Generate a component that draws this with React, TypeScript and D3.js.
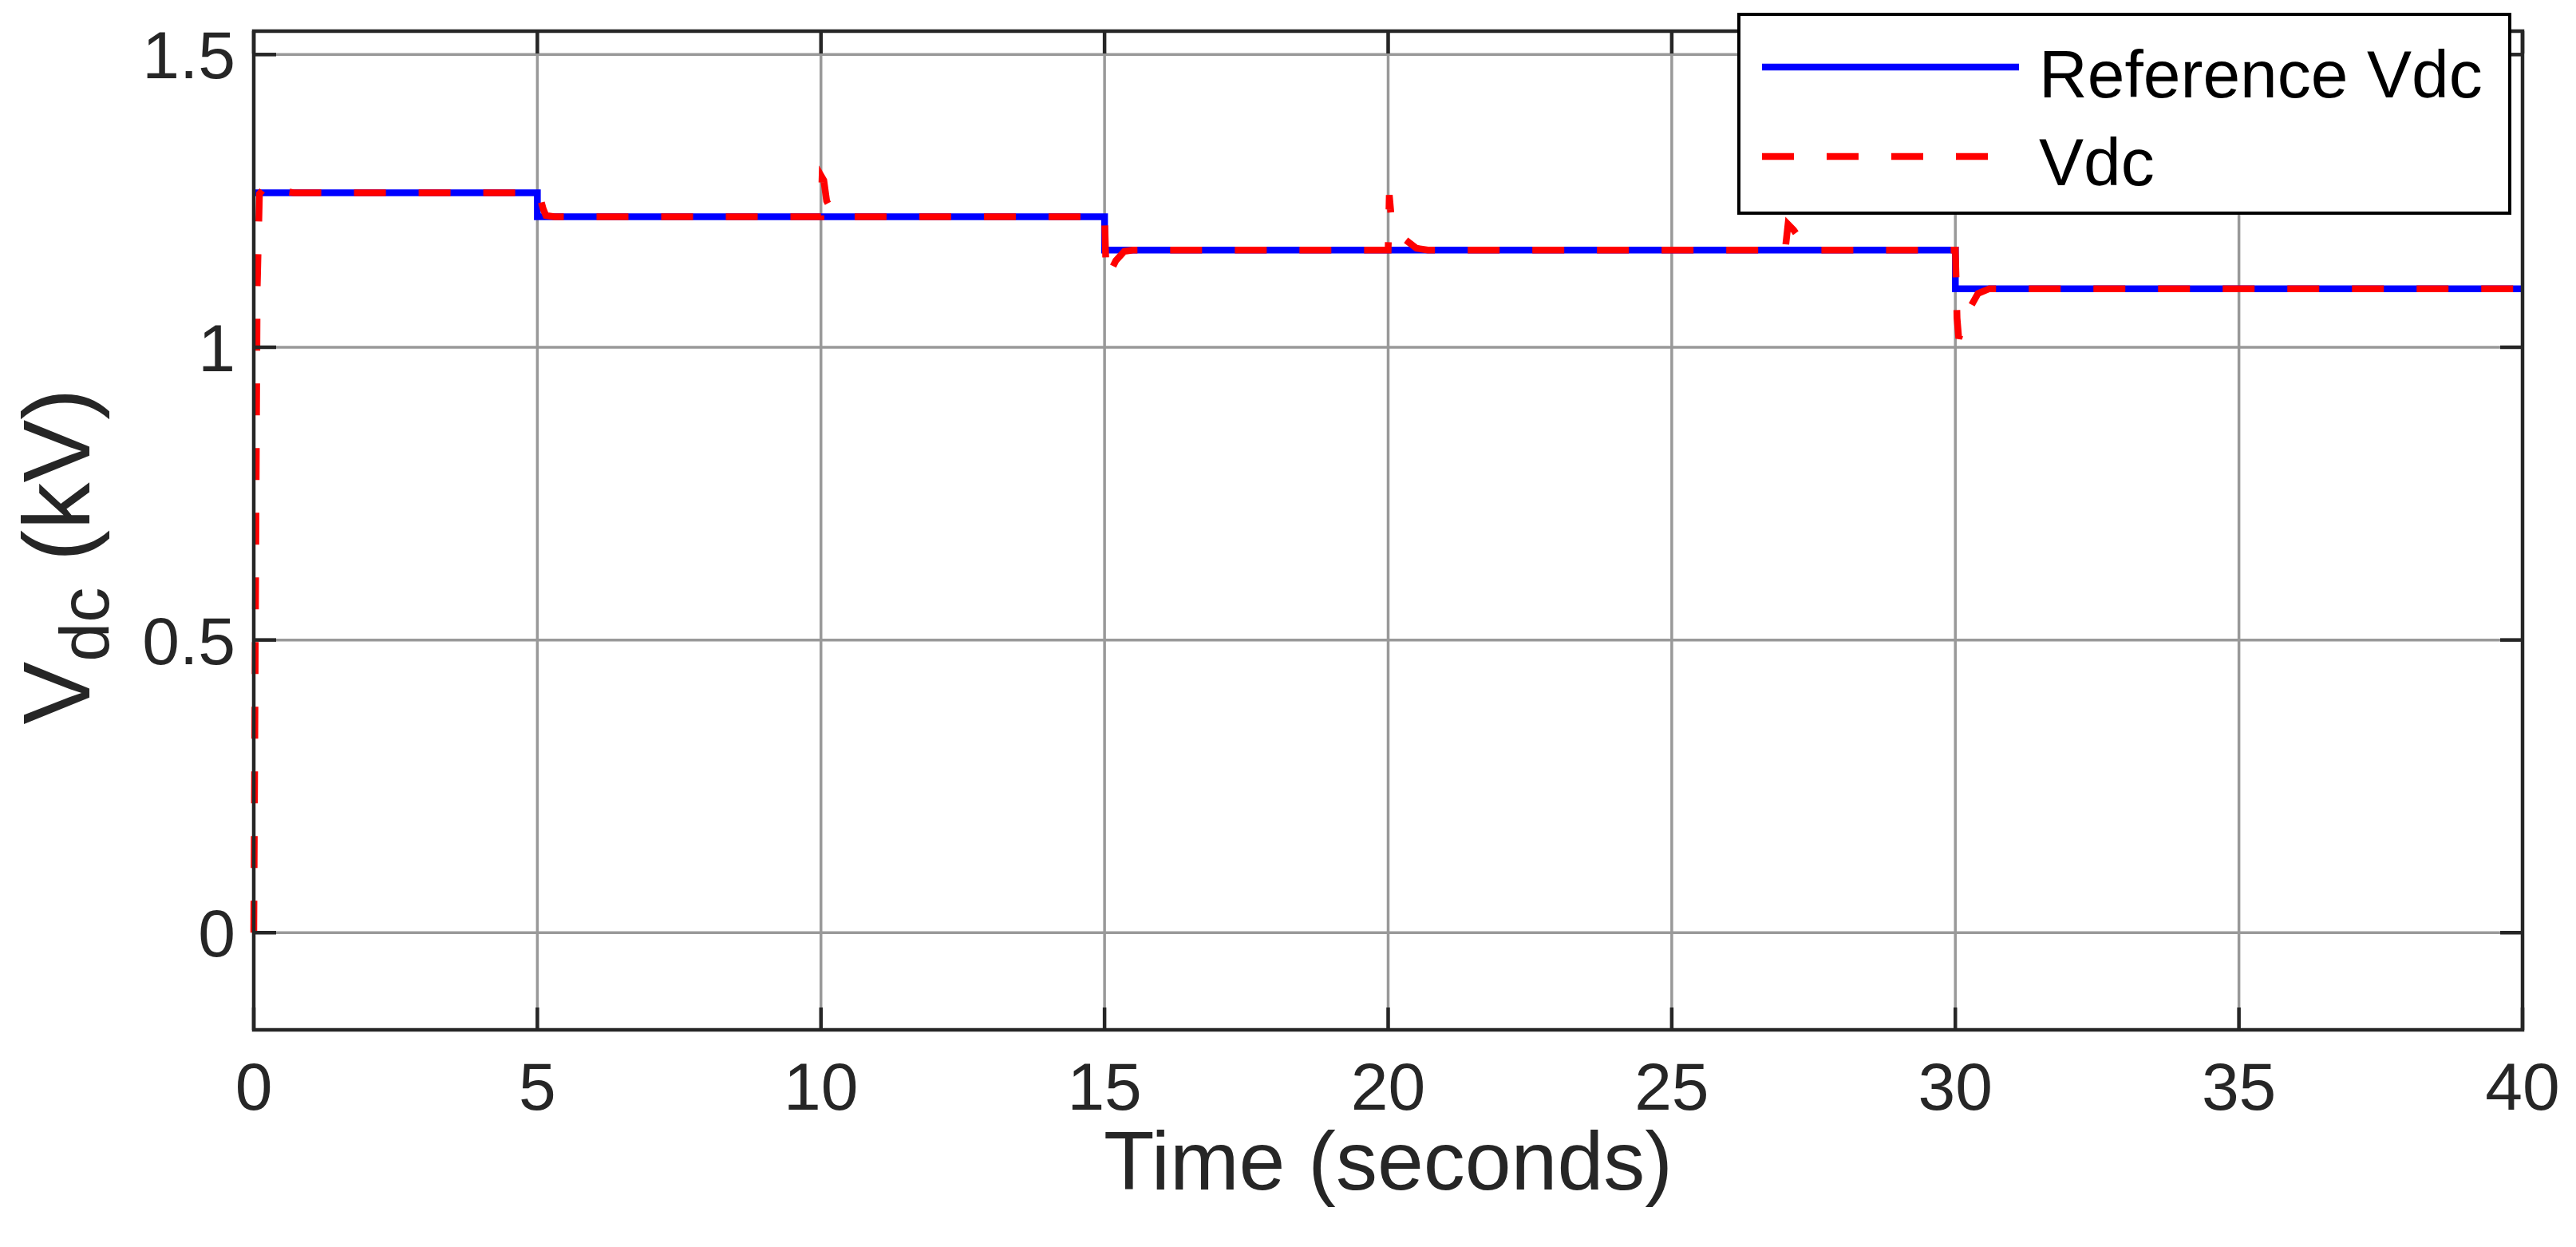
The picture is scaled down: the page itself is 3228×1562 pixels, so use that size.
import React from "react";
import { scaleLinear, line, curveStepAfter, curveLinear } from "d3";

// reference voltage steps (kV)
const refTimes = [0, 5, 15, 30, 40];
const refValues = [1.264, 1.223, 1.166, 1.1, 1.1];

const vdcTimes = [
    0, 0.06, 0.1, 0.25, 0.45, 0.7,
    5.0, 5.05, 5.1, 5.15, 5.3,
    10.0, 10.02, 10.05, 10.1, 10.2, 10.4,
    15.0, 15.03, 15.08, 15.2, 15.35, 15.5,
    20.0, 20.02, 20.06, 20.15, 20.3, 20.5, 20.7,
    27.0, 27.05, 27.15, 27.3, 27.45, 27.6,
    30.0, 30.03, 30.06, 30.15, 30.25, 30.4, 30.6,
    40,
];
const vdcValues = [
    0, 1.1, 1.262, 1.28, 1.268, 1.264,
    1.264, 1.255, 1.237, 1.225, 1.223,
    1.223, 1.29, 1.285, 1.25, 1.232, 1.223,
    1.223, 1.12, 1.125, 1.148, 1.164, 1.166,
    1.166, 1.26, 1.216, 1.2, 1.184, 1.169, 1.166,
    1.166, 1.21, 1.2, 1.18, 1.168, 1.166,
    1.166, 1.05, 1.015, 1.04, 1.066, 1.092, 1.1,
    1.1,
];

const xTicks = [0, 5, 10, 15, 20, 25, 30, 35, 40];
const yTicks = [0, 0.5, 1, 1.5];
const yTickLabels = ["0", "0.5", "1", "1.5"];

const legendNames = ["Reference Vdc", "Vdc"];

const width = 3228;
const height = 1562;
const plot = { left: 318, right: 3161, top: 39, bottom: 1290 };
const font = "Liberation Sans, Arial, Helvetica, sans-serif";
const axisColor = "#262626";
const tickLen = 28;

const App = () => {
    const xScale = scaleLinear().domain([0, 40]).range([plot.left, plot.right]);
    const yScale = scaleLinear()
        .domain([-0.166, 1.54])
        .range([plot.bottom, plot.top]);

    const refPath = line<number>()
        .x((d, i) => xScale(refTimes[i]))
        .y((d) => yScale(d))
        .curve(curveStepAfter)(refValues);

    const vdcPath = line<number>()
        .x((d, i) => xScale(vdcTimes[i]))
        .y((d) => yScale(d))
        .curve(curveLinear)(vdcValues);

    const lg = { x: 2179, y: 18, w: 966, h: 249 };

    return (
        <svg
            width={width}
            height={height}
            style={{ position: "absolute", left: 0, top: 0, background: "white" }}
            fontFamily={font}
        >
            <rect x={0} y={0} width={width} height={height} fill="white" />

            {/* grid */}
            {xTicks.map((t) => (
                <line
                    key={"gx" + t}
                    x1={xScale(t)}
                    x2={xScale(t)}
                    y1={plot.top}
                    y2={plot.bottom}
                    stroke="#999"
                    strokeWidth={3.5}
                />
            ))}
            {yTicks.map((t) => (
                <line
                    key={"gy" + t}
                    x1={plot.left}
                    x2={plot.right}
                    y1={yScale(t)}
                    y2={yScale(t)}
                    stroke="#999"
                    strokeWidth={3.5}
                />
            ))}

            {/* series */}
            <path d={refPath ?? ""} fill="none" stroke="#0000ff" strokeWidth={8.5} />
            <path
                d={vdcPath ?? ""}
                fill="none"
                stroke="#ff0000"
                strokeWidth={8.5}
                strokeDasharray="40,41"
            />

            {/* box and ticks */}
            <rect
                x={plot.left}
                y={plot.top}
                width={plot.right - plot.left}
                height={plot.bottom - plot.top}
                fill="none"
                stroke={axisColor}
                strokeWidth={4.5}
            />
            {xTicks.map((t) => (
                <g key={"tx" + t}>
                    <line
                        x1={xScale(t)}
                        x2={xScale(t)}
                        y1={plot.bottom}
                        y2={plot.bottom - tickLen}
                        stroke={axisColor}
                        strokeWidth={4.5}
                    />
                    <line
                        x1={xScale(t)}
                        x2={xScale(t)}
                        y1={plot.top}
                        y2={plot.top + tickLen}
                        stroke={axisColor}
                        strokeWidth={4.5}
                    />
                    <text
                        x={xScale(t)}
                        y={1390}
                        textAnchor="middle"
                        fontSize={84}
                        fill={axisColor}
                    >
                        {t}
                    </text>
                </g>
            ))}
            {yTicks.map((t, i) => (
                <g key={"ty" + t}>
                    <line
                        x1={plot.left}
                        x2={plot.left + tickLen}
                        y1={yScale(t)}
                        y2={yScale(t)}
                        stroke={axisColor}
                        strokeWidth={4.5}
                    />
                    <line
                        x1={plot.right}
                        x2={plot.right - tickLen}
                        y1={yScale(t)}
                        y2={yScale(t)}
                        stroke={axisColor}
                        strokeWidth={4.5}
                    />
                    <text
                        x={295}
                        y={yScale(t) + 30}
                        textAnchor="end"
                        fontSize={84}
                        fill={axisColor}
                    >
                        {yTickLabels[i]}
                    </text>
                </g>
            ))}

            {/* axis labels */}
            <text
                x={(plot.left + plot.right) / 2}
                y={1490}
                textAnchor="middle"
                fontSize={104}
                fill={axisColor}
            >
                Time (seconds)
            </text>
            <text
                transform={`translate(112,697) rotate(-90)`}
                textAnchor="middle"
                fontSize={118}
                fill={axisColor}
            >
                V<tspan fontSize={88} dy={24}>dc</tspan>
                <tspan dy={-24}> (kV)</tspan>
            </text>

            {/* legend */}
            <rect
                x={lg.x}
                y={lg.y}
                width={lg.w}
                height={lg.h}
                fill="white"
                stroke="#000"
                strokeWidth={4}
            />
            <line x1={2208} x2={2530} y1={84} y2={84} stroke="#0000ff" strokeWidth={8.5} />
            <line
                x1={2208}
                x2={2530}
                y1={196}
                y2={196}
                stroke="#ff0000"
                strokeWidth={8.5}
                strokeDasharray="40,41"
            />
            <text x={2555} y={122} fontSize={84} fill="#000">
                {legendNames[0]}
            </text>
            <text x={2555} y={232} fontSize={84} fill="#000">
                {legendNames[1]}
            </text>
        </svg>
    );
};

export default App;
